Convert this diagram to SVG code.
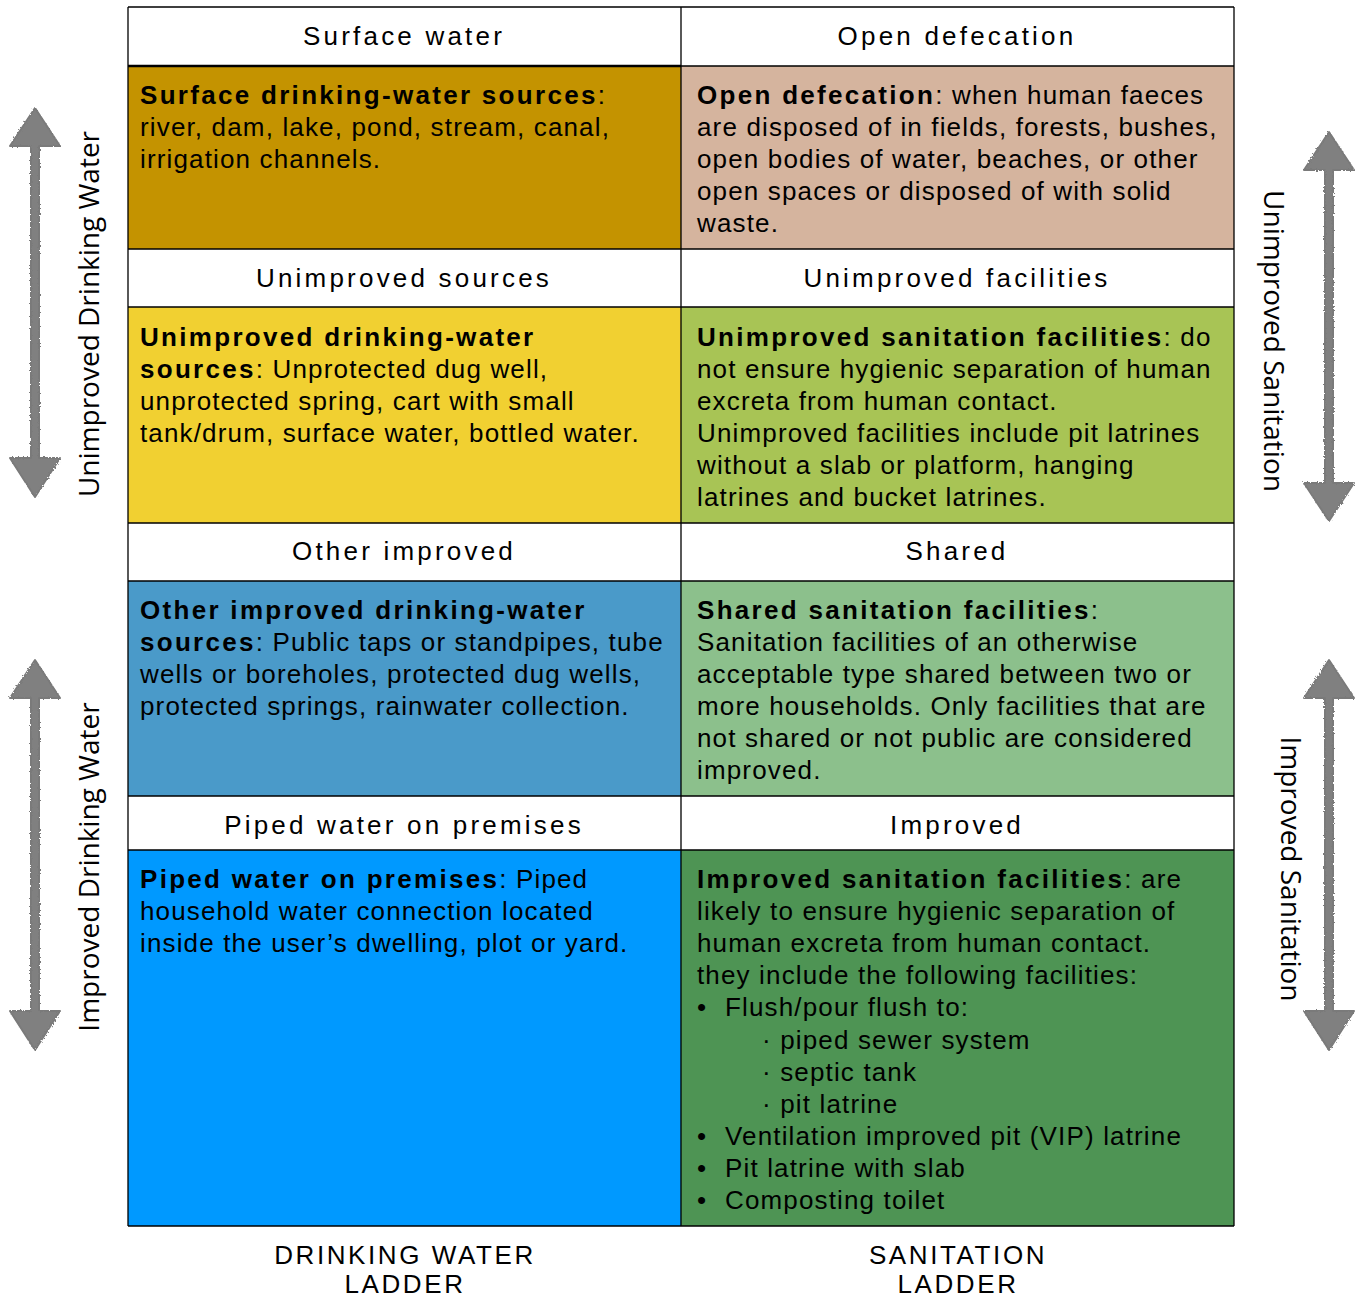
<svg xmlns="http://www.w3.org/2000/svg" width="1357" height="1298" viewBox="0 0 1357 1298">
<style>
.hd{font-family:"Liberation Sans",Arial,sans-serif;font-size:26px;letter-spacing:3.2px;fill:#000;text-anchor:middle}
.tx{font-family:"Liberation Sans",Arial,sans-serif;font-size:26px;letter-spacing:1.15px;fill:#000}
.b{font-weight:bold;letter-spacing:2.3px}
.ft{font-family:"Liberation Sans",Arial,sans-serif;font-size:26px;letter-spacing:2.6px;fill:#000;text-anchor:middle}
.side{font-family:"Open Sans","DejaVu Sans",sans-serif;font-size:28px;fill:#000;text-anchor:middle}
.ln{stroke:#000;stroke-width:1.3;fill:none}
.arr{fill:#808080;stroke:#7a7a7a;stroke-width:2;stroke-linejoin:round}
</style>
<defs>
<filter id="rough" x="-20%" y="-5%" width="140%" height="110%">
<feTurbulence type="fractalNoise" baseFrequency="0.6" numOctaves="2" seed="3" result="n"/>
<feDisplacementMap in="SourceGraphic" in2="n" scale="3"/>
</filter>
</defs>
<rect width="1357" height="1298" fill="#fff"/>

<g id="cells">
<g id="hdr-surface-water"><rect x="128" y="7" width="553" height="59" fill="#fff"/><text class="hd" x="404" y="45">Surface water</text></g>
<g id="hdr-open-defecation"><rect x="681" y="7" width="553" height="59" fill="#fff"/><text class="hd" x="957" y="45">Open defecation</text></g>
<g id="cell-surface"><rect x="128" y="66" width="553" height="183" fill="#C49300"/>
<text class="tx" x="140" y="104"><tspan class="b">Surface drinking-water sources</tspan>:</text>
<text class="tx" x="140" y="136">river, dam, lake, pond, stream, canal,</text>
<text class="tx" x="140" y="168">irrigation channels.</text></g>
<g id="cell-open"><rect x="681" y="66" width="553" height="183" fill="#D5B49E"/>
<text class="tx" x="697" y="104"><tspan class="b">Open defecation</tspan>: when human faeces</text>
<text class="tx" x="697" y="136">are disposed of in fields, forests, bushes,</text>
<text class="tx" x="697" y="168">open bodies of water, beaches, or other</text>
<text class="tx" x="697" y="200">open spaces or disposed of with solid</text>
<text class="tx" x="697" y="232">waste.</text></g>

<g id="hdr-unimproved-sources"><rect x="128" y="249" width="553" height="58" fill="#fff"/><text class="hd" x="404" y="287">Unimproved sources</text></g>
<g id="hdr-unimproved-facilities"><rect x="681" y="249" width="553" height="58" fill="#fff"/><text class="hd" x="957" y="287">Unimproved facilities</text></g>
<g id="cell-unimproved-water"><rect x="128" y="307" width="553" height="216" fill="#F1D031"/>
<text class="tx" x="140" y="346"><tspan class="b">Unimproved drinking-water</tspan></text>
<text class="tx" x="140" y="378"><tspan class="b">sources</tspan>: Unprotected dug well,</text>
<text class="tx" x="140" y="410">unprotected spring, cart with small</text>
<text class="tx" x="140" y="442">tank/drum, surface water, bottled water.</text></g>
<g id="cell-unimproved-san"><rect x="681" y="307" width="553" height="216" fill="#A8C455"/>
<text class="tx" x="697" y="346"><tspan class="b">Unimproved sanitation facilities</tspan>: do</text>
<text class="tx" x="697" y="378">not ensure hygienic separation of human</text>
<text class="tx" x="697" y="410">excreta from human contact.</text>
<text class="tx" x="697" y="442">Unimproved facilities include pit latrines</text>
<text class="tx" x="697" y="474">without a slab or platform, hanging</text>
<text class="tx" x="697" y="506">latrines and bucket latrines.</text></g>

<g id="hdr-other-improved"><rect x="128" y="523" width="553" height="58" fill="#fff"/><text class="hd" x="404" y="560">Other improved</text></g>
<g id="hdr-shared"><rect x="681" y="523" width="553" height="58" fill="#fff"/><text class="hd" x="957" y="560">Shared</text></g>
<g id="cell-other-improved"><rect x="128" y="581" width="553" height="215" fill="#4A9AC9"/>
<text class="tx" x="140" y="619"><tspan class="b">Other improved drinking-water</tspan></text>
<text class="tx" x="140" y="651"><tspan class="b">sources</tspan>: Public taps or standpipes, tube</text>
<text class="tx" x="140" y="683">wells or boreholes, protected dug wells,</text>
<text class="tx" x="140" y="715">protected springs, rainwater collection.</text></g>
<g id="cell-shared"><rect x="681" y="581" width="553" height="215" fill="#8CC08C"/>
<text class="tx" x="697" y="619"><tspan class="b">Shared sanitation facilities</tspan>:</text>
<text class="tx" x="697" y="651">Sanitation facilities of an otherwise</text>
<text class="tx" x="697" y="683">acceptable type shared between two or</text>
<text class="tx" x="697" y="715">more households. Only facilities that are</text>
<text class="tx" x="697" y="747">not shared or not public are considered</text>
<text class="tx" x="697" y="779">improved.</text></g>

<g id="hdr-piped"><rect x="128" y="796" width="553" height="54" fill="#fff"/><text class="hd" x="404" y="834">Piped water on premises</text></g>
<g id="hdr-improved"><rect x="681" y="796" width="553" height="54" fill="#fff"/><text class="hd" x="957" y="834">Improved</text></g>
<g id="cell-piped"><rect x="128" y="850" width="553" height="376" fill="#0099FF"/>
<text class="tx" x="140" y="888"><tspan class="b">Piped water on premises</tspan>: Piped</text>
<text class="tx" x="140" y="920">household water connection located</text>
<text class="tx" x="140" y="952">inside the user’s dwelling, plot or yard.</text></g>
<g id="cell-improved"><rect x="681" y="850" width="553" height="376" fill="#4E9454"/>
<text class="tx" x="697" y="888"><tspan class="b">Improved sanitation facilities</tspan>: are</text>
<text class="tx" x="697" y="920">likely to ensure hygienic separation of</text>
<text class="tx" x="697" y="952">human excreta from human contact.</text>
<text class="tx" x="697" y="984">they include the following facilities:</text>
<text class="tx" x="697" y="1016">•</text><text class="tx" x="725" y="1016">Flush/pour flush to:</text>
<text class="tx" x="762" y="1049">· piped sewer system</text>
<text class="tx" x="762" y="1081">· septic tank</text>
<text class="tx" x="762" y="1113">· pit latrine</text>
<text class="tx" x="697" y="1145">•</text><text class="tx" x="725" y="1145">Ventilation improved pit (VIP) latrine</text>
<text class="tx" x="697" y="1177">•</text><text class="tx" x="725" y="1177">Pit latrine with slab</text>
<text class="tx" x="697" y="1209">•</text><text class="tx" x="725" y="1209">Composting toilet</text></g>
</g>

<g id="gridlines">
<path class="ln" d="M128,7 H1234 M128,66 H1234 M128,249 H1234 M128,307 H1234 M128,523 H1234 M128,581 H1234 M128,796 H1234 M128,850 H1234 M128,1226 H1234"/>
<path class="ln" d="M128,7 V1226 M681,7 V1226 M1234,7 V1226"/>
<path d="M128,66 H681" stroke="#000" stroke-width="2.5"/>
</g>

<g id="footer">
<g id="label-drinking"><text class="ft" x="405" y="1264">DRINKING WATER</text><text class="ft" x="405" y="1293">LADDER</text></g>
<g id="label-sanitation"><text class="ft" x="958" y="1264">SANITATION</text><text class="ft" x="958" y="1293">LADDER</text></g>
</g>

<g id="connectors" filter="url(#rough)">
<path class="arr" d="M35,108 L60,146 L39,146 L39,458 L60,458 L35,497 L10,458 L31,458 L31,146 L10,146 Z"/>
<path class="arr" d="M35,660 L60,698 L39,698 L39,1011 L60,1011 L35,1050 L10,1011 L31,1011 L31,698 L10,698 Z"/>
<path class="arr" d="M1329,132 L1354,170 L1333,170 L1333,483 L1354,483 L1329,521 L1304,483 L1325,483 L1325,170 L1304,170 Z"/>
<path class="arr" d="M1329,660 L1354,698 L1333,698 L1333,1011 L1354,1011 L1329,1050 L1304,1011 L1325,1011 L1325,698 L1304,698 Z"/>
</g>

<g id="side-labels">
<g id="label-unimproved-drinking"><text class="side" transform="translate(99,314) rotate(-90)">Unimproved Drinking Water</text></g>
<g id="label-improved-drinking"><text class="side" transform="translate(99,867) rotate(-90)">Improved Drinking Water</text></g>
<g id="label-unimproved-san"><text class="side" transform="translate(1264,341) rotate(90)">Unimproved Sanitation</text></g>
<g id="label-improved-san"><text class="side" transform="translate(1281,869) rotate(90)">Improved Sanitation</text></g>
</g>
</svg>
